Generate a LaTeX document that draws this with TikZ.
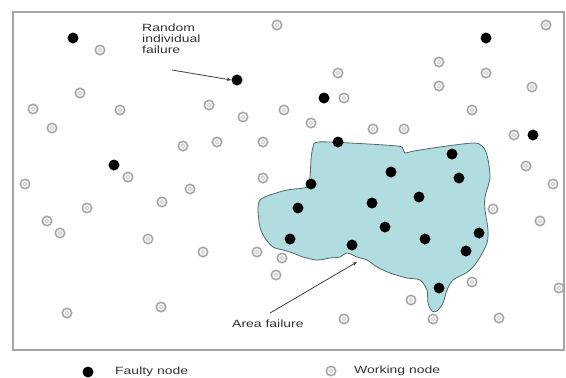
\documentclass[tikz,border=0pt]{standalone}
\usepackage{fontspec}
\newfontfamily\lbl[FakeStretch=1.33]{Liberation Sans}
\usetikzlibrary{arrows.meta}
\definecolor{blobfill}{RGB}{178,221,224}
\definecolor{blobline}{RGB}{80,105,105}
\definecolor{framecol}{RGB}{165,165,165}
\tikzset{
  faulty/.style={circle,fill=black,inner sep=0pt,minimum size=11pt},
  working/.style={circle,draw=gray!70,line width=1.5pt,fill=gray!12,inner sep=0pt,minimum size=9.5pt,
    path picture={\draw[gray!45,line width=0.6pt] (path picture bounding box.center) circle (1.8pt);}},
  lbltext/.style={font=\lbl\fontsize{10.5}{12}\selectfont,text=black!80,inner sep=0pt,align=left},
  arr/.style={draw=black!75,line width=0.8pt,-{Stealth[length=4.5pt,width=3.5pt]}}
}
\begin{document}
\begin{tikzpicture}[x=1pt,y=-1pt]
\useasboundingbox (0,0) rectangle (566,378);
\fill[white] (0,0) rectangle (566,378);
% frame
\draw[framecol,line width=1.3pt] (13,12) rectangle (564,350);
% area failure region
\draw[blobline,fill=blobfill,line width=0.8pt] plot[smooth cycle,tension=0.5] coordinates {
 (318,142) (350,143) (397,146) (403,149) (405,153) (414,151) (440,147) (473,143) (482,146)
 (487,155) (490,177) (485,197) (485,210) (488,230) (487,243) (480,257) (473,267) (466,273)
 (453,280) (447,290) (443,303) (437,311) (432,311) (428,303) (427,290) (420,280) (407,278)
 (390,273) (377,267) (367,260) (357,257) (347,253) (340,257) (330,258) (317,260) (303,257)
 (293,253) (283,250) (273,247) (265,238) (260,227) (258,210) (260,200) (270,195) (287,190)
 (307,187) (310,177) (311,160) (313,147)};
% working nodes
\foreach \x/\y [count=\i] in {277/25,100/50,546/25,439/62,338/73,80/93,486/73,532/87,33/109,120/110,
  209/105,344/98,439/86,52/128,243/117,284/110,183/146,217/142,263/142,311/123,
  373/129,404/129,472/110,514/135,526/166,128/177,25/184,190/189,263/178,553/184,
  87/208,162/202,47/221,60/233,493/209,540/221,148/239,203/252,257/252,282/258,
  276/275,472/282,411/300,559/288,67/313,161/307,344/319,433/319,499/318}
  \node[working] (w\i) at (\x,\y) {};
% faulty nodes
\foreach \x/\y [count=\i] in {73/38,237/80,324/98,486/38,114/165,533/135,
  338/142,452/154,391/172,459/178,311/184,419/197,298/208,372/203,385/227,
  290/239,352/245,425/239,479/233,466/251,439/288}
  \node[faulty] (f\i) at (\x,\y) {};
% labels
\node[lbltext,anchor=north west] (randlbl) at (142,24) {Random\\[-1.2pt]individual\\[-1.2pt]failure};
\coordinate (rs) at (172,70);
\draw[arr] (rs) -- (f2.west);
\node[lbltext,anchor=west] (arealbl) at (232,324) {Area failure};
\coordinate (ae) at (357,262);
\draw[arr] (270,313) -- (ae);
% legend
\node[faulty] (lf) at (88,372) {};
\node[lbltext,anchor=west] (lft) at (115,372) {Faulty node};
\node[working] (lw) at (331,371) {};
\node[lbltext,anchor=west] (lwt) at (354,371) {Working node};
\end{tikzpicture}
\end{document}
